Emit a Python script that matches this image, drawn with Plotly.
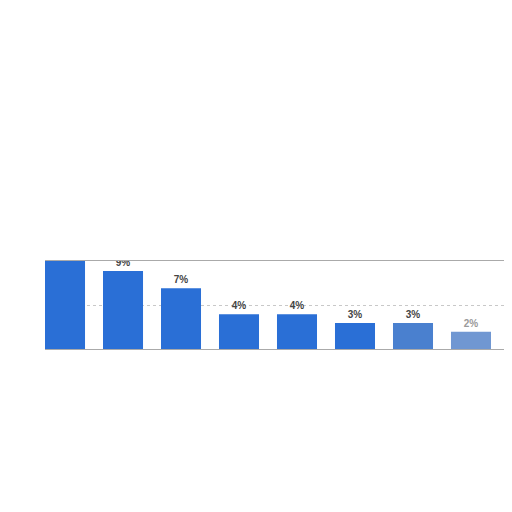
import plotly.graph_objects as go

categories = ["1", "2", "3", "4", "5", "6", "7", "8", "9"]
shares = [12, 9, 7, 4, 4, 3, 3, 2, 2]
labels = [f"{v}%" for v in shares]

bar_colors = ["#2a6fd6"] * 6 + ["#4a80cf", "#7097d2", "#7097d2"]
text_colors = ["#444444"] * 7 + ["#9a9a9a", "#9a9a9a"]

fig = go.Figure(go.Bar(
    x=list(range(len(categories))),
    y=shares,
    text=labels,
    texttemplate="<b>%{text}</b>",
    textposition="outside",
    textfont=dict(family="Arial, Liberation Sans", size=10, color=text_colors),
    marker=dict(color=bar_colors, line=dict(width=0)),
    width=0.69,
    cliponaxis=True,
    hovertext=categories,
))

# page body adds 8px; the figure is sized so the page does not scroll
fig.update_layout(
    width=504, height=460,
    margin=dict(l=37, r=0, t=253, b=119),
    paper_bgcolor="white", plot_bgcolor="white",
    showlegend=False,
    font=dict(family="Arial, Liberation Sans"),
)
fig.update_xaxes(range=[-0.345, 7.707], showticklabels=False, ticks="",
                 showgrid=False, showline=True, linecolor="#aaaaaa",
                 linewidth=1, mirror=True, zeroline=False)
fig.update_yaxes(range=[0, 10.15], tickvals=[5], showticklabels=False, ticks="",
                 showgrid=True, gridcolor="#c8c8c8", griddash="dot",
                 gridwidth=1, zeroline=False, showline=False)

fig.write_html("out.html")
